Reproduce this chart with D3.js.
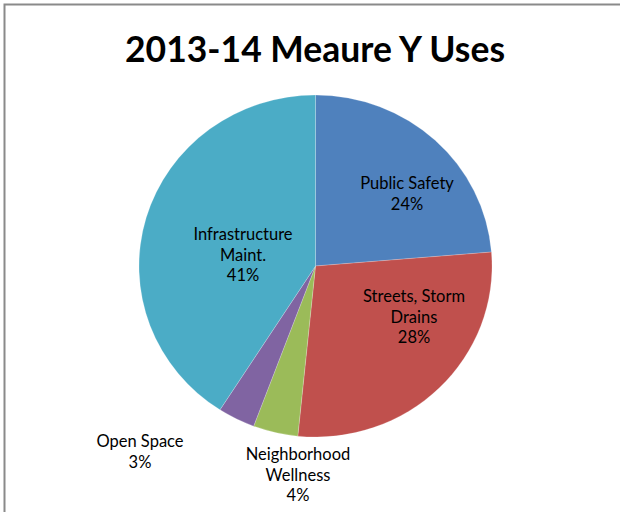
<!DOCTYPE html>
<html>
<head>
<meta charset="utf-8">
<script src="https://cdn.jsdelivr.net/npm/d3@7"></script>
<style>
  html, body { margin: 0; padding: 0; background: #fff; }
  svg { display: block; }
</style>
</head>
<body>
<svg id="chart" width="620" height="512"></svg>
<script>
const title = "2013-14 Meaure Y Uses";
const categories = ["Public Safety", "Streets, Storm Drains", "Neighborhood Wellness", "Open Space", "Infrastructure Maint."];
const values = [23.7, 27.9, 4.1, 3.4, 40.9];
const colors = ["#4F81BD", "#C0504D", "#9BBB59", "#8064A2", "#4BACC6"];
const labelLines = [["Public Safety"], ["Streets, Storm", "Drains"], ["Neighborhood", "Wellness"], ["Open Space"], ["Infrastructure", "Maint."]];

const svg = d3.select("#chart");
const W = 620, H = 512;
svg.append("rect").attr("width", W).attr("height", H).attr("fill", "#fff");

// chart area border (top & left visible)
svg.append("path").attr("d", "M4.5,512 L4.5,4.5 L620,4.5")
  .attr("fill", "none").attr("stroke", "#8a8a8a").attr("stroke-width", 2);

svg.append("text").attr("x", 315).attr("y", 62)
  .attr("text-anchor", "middle")
  .attr("font-family", "Lato, 'Open Sans', sans-serif")
  .attr("font-weight", "bold").attr("font-size", 36)
  .attr("textLength", 380).attr("lengthAdjust", "spacingAndGlyphs")
  .attr("fill", "#000").text(title);

const cx = 315.5, cy = 266, rx = 176.5, ry = 171;
const pie = d3.pie().sort(null).value(d => d)(values);
const arc = d3.arc().innerRadius(0).outerRadius(rx);

const g = svg.append("g").attr("transform", `translate(${cx},${cy}) scale(1,${ry / rx})`);
g.selectAll("path").data(pie).join("path")
  .attr("d", arc)
  .attr("fill", (d, i) => colors[i])
  .attr("stroke", "rgba(255,255,255,0.35)").attr("stroke-width", 0.6);

const labelPos = [
  {x: 407, y: 189}, {x: 414, y: 302}, {x: 298, y: 460}, {x: 140, y: 447}, {x: 243, y: 240}
];
const lh = 20.5;
const lg = svg.append("g")
  .attr("font-family", "Lato, 'Open Sans', sans-serif")
  .attr("font-size", 16.5).attr("fill", "#000").attr("text-anchor", "middle");
pie.forEach((p, i) => {
  const lines = labelLines[i].concat([Math.round(values[i]) + "%"]);
  const t = lg.append("text").attr("x", labelPos[i].x).attr("y", labelPos[i].y);
  lines.forEach((ln, j) => {
    t.append("tspan").attr("x", labelPos[i].x).attr("dy", j === 0 ? 0 : lh).text(ln);
  });
});
</script>
</body>
</html>
